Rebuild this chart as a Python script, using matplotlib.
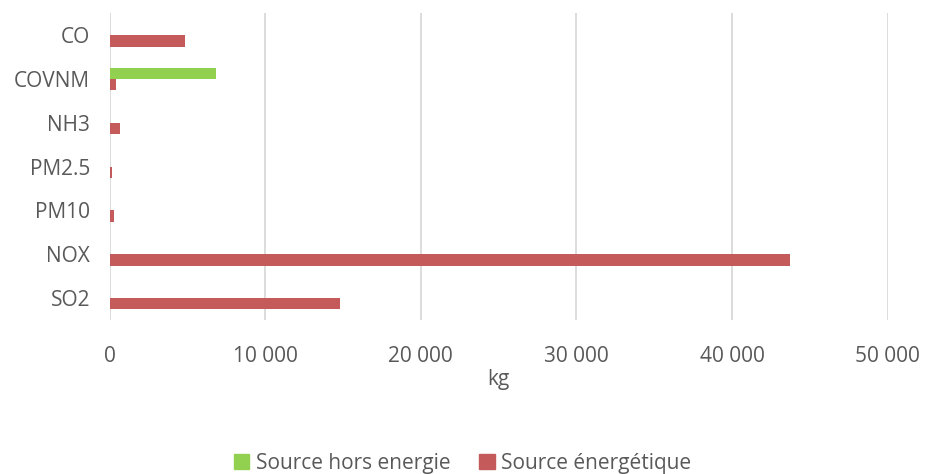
import numpy as np
import matplotlib.pyplot as plt
from matplotlib.patches import Patch

categories = ["CO", "COVNM", "NH3", "PM2.5", "PM10", "NOX", "SO2"]
hors_energie = [0, 6840, 0, 0, 0, 0, 0]
energetique = [4880, 390, 650, 130, 260, 43750, 14780]
xticks = [0, 10000, 20000, 30000, 40000, 50000]
xticklabels = ["0", "10 000", "20 000", "30 000", "40 000", "50 000"]

plt.rcParams['font.family'] = ['Open Sans', 'DejaVu Sans']
txt = '#595959'
green = '#92D050'
red = '#C55A5A'

fig = plt.figure(figsize=(9.25, 4.74), dpi=100)
ax = fig.add_axes([0.1184, 0.325, 0.8413, 0.647])

y = np.arange(len(categories))
h = 0.26
ax.barh(y - h / 2, hors_energie, height=h, color=green, zorder=3)
ax.barh(y + h / 2, energetique, height=h, color=red, zorder=3)

ax.set_ylim(len(categories) - 0.5, -0.5)
ax.set_xlim(0, 50000)
ax.set_yticks(y)
ax.set_yticklabels(categories)
ax.set_xticks(xticks)
ax.set_xticklabels(xticklabels)
ax.tick_params(axis='both', length=0, labelsize=15, labelcolor=txt)
ax.tick_params(axis='x', pad=19)
ax.tick_params(axis='y', pad=14)
ax.grid(axis='x', color='#D9D9D9', linewidth=1.3, zorder=0)
for s in ax.spines.values():
    s.set_visible(False)
ax.set_xlabel("kg", fontsize=15, color=txt, labelpad=1)

handles = [Patch(color=green, label="Source hors energie"),
           Patch(color=red, label="Source énergétique")]
fig.legend(handles=handles, loc='center', bbox_to_anchor=(0.5, 0.022),
           ncol=2, frameon=False, fontsize=15, labelcolor=txt,
           handlelength=0.75, handleheight=0.75, handletextpad=0.3,
           columnspacing=1.4)

fig.savefig("out.png", dpi=100)
